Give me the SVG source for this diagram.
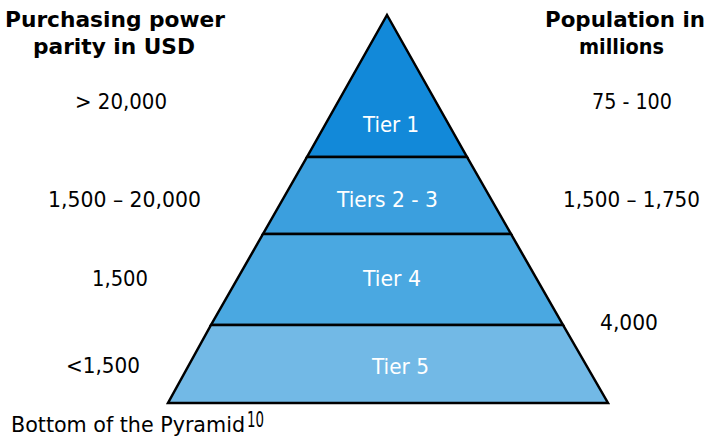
<svg xmlns="http://www.w3.org/2000/svg" width="713" height="438" viewBox="0 0 713 438">
<style>
text{font-family:"DejaVu Sans Condensed","DejaVu Sans","Liberation Sans",sans-serif;font-size:22px;fill:#000}
.h{font-weight:bold}
.w{fill:#fff}
.tier{stroke:#000;stroke-width:2.5;stroke-linejoin:miter}
</style>
<rect width="713" height="438" fill="#fff"/>
<g id="tier1"><polygon class="tier" points="387,15 467,157 307,157" fill="#1289D9"/><text class="w" x="363" y="132" textLength="56" lengthAdjust="spacingAndGlyphs">Tier 1</text></g>
<g id="tier2-3"><polygon class="tier" points="307,157 467,157 511,234 263,234" fill="#3B9FDE"/><text class="w" x="337" y="207" textLength="101" lengthAdjust="spacingAndGlyphs">Tiers 2 - 3</text></g>
<g id="tier4"><polygon class="tier" points="263,234 511,234 563,325 211,325" fill="#4AA8E1"/><text class="w" x="363" y="286" textLength="58" lengthAdjust="spacingAndGlyphs">Tier 4</text></g>
<g id="tier5"><polygon class="tier" points="211,325 563,325 608,403 168,403" fill="#72B9E6"/><text class="w" x="372" y="374" textLength="57" lengthAdjust="spacingAndGlyphs">Tier 5</text></g>
<g id="left-labels">
<text class="h" x="5" y="27" textLength="220" lengthAdjust="spacingAndGlyphs">Purchasing power</text>
<text class="h" x="33" y="54" textLength="162" lengthAdjust="spacingAndGlyphs">parity in USD</text>
<text x="75" y="109" textLength="92" lengthAdjust="spacingAndGlyphs">&gt; 20,000</text>
<text x="48" y="207" textLength="153" lengthAdjust="spacingAndGlyphs">1,500 – 20,000</text>
<text x="92" y="286" textLength="56" lengthAdjust="spacingAndGlyphs">1,500</text>
<text x="66" y="373" textLength="74" lengthAdjust="spacingAndGlyphs">&lt;1,500</text>
<text x="11" y="432" font-size="21" textLength="234" lengthAdjust="spacingAndGlyphs">Bottom of the Pyramid</text>
<text x="247" y="427" font-size="13" textLength="17" lengthAdjust="spacingAndGlyphs">10</text>
</g>
<g id="right-labels">
<text class="h" x="545" y="27" textLength="160" lengthAdjust="spacingAndGlyphs">Population in</text>
<text class="h" x="579" y="54" textLength="85" lengthAdjust="spacingAndGlyphs">millions</text>
<text x="592" y="109" textLength="80" lengthAdjust="spacingAndGlyphs">75 - 100</text>
<text x="563" y="207" textLength="137" lengthAdjust="spacingAndGlyphs">1,500 – 1,750</text>
<text x="600" y="330" textLength="58" lengthAdjust="spacingAndGlyphs">4,000</text>
</g>
<g id="connectors"></g>
</svg>
